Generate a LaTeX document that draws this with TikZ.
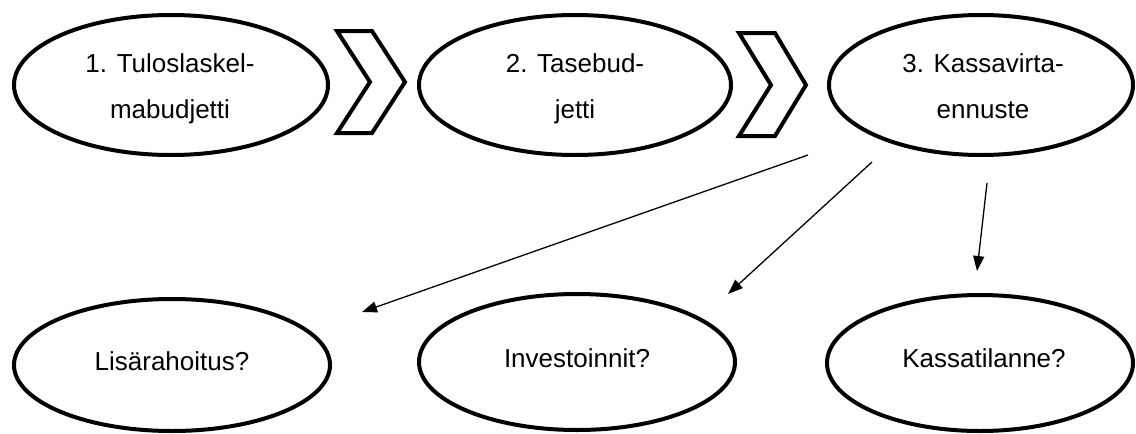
\documentclass[tikz,border=0pt]{standalone}
\usepackage{fontspec}
\setmainfont{Liberation Sans}
\usetikzlibrary{shapes.geometric,arrows.meta}
\begin{document}
\begin{tikzpicture}[x=1pt,y=-1pt,
  oval/.style={ellipse,draw=black,line width=4pt,inner sep=0pt,outer sep=0pt},
  lbl/.style={font=\fontsize{26}{30}\selectfont,inner sep=0pt,anchor=base},
  chev/.style={draw=black,line width=4pt,line join=miter},
  arr/.style={line width=1.3pt,-{Triangle[length=15pt,width=11pt]}}]
\useasboundingbox (0,0) rectangle (1136,434);
% top row
\node[oval,minimum width=314,minimum height=140] (e1) at (171,85) {};
\node[oval,minimum width=312,minimum height=140] (e2) at (575,85) {};
\node[oval,minimum width=304,minimum height=140] (e3) at (981,85) {};
\node[lbl] (t1a) at (170,72) {1. Tuloslaskel-};
\node[lbl] (t1b) at (170,118) {mabudjetti};
\node[lbl] (t2a) at (575,72) {2. Tasebud-};
\node[lbl] (t2b) at (575,118) {jetti};
\node[lbl] (t3a) at (983,72) {3. Kassavirta-};
\node[lbl] (t3b) at (983,118) {ennuste};
% chevrons
\draw[chev] (337,31) -- (372,31) -- (405,82) -- (372,133) -- (337,133) -- (370,82) -- cycle;
\draw[chev] (739,33) -- (775,33) -- (806,85) -- (775,136) -- (739,136) -- (771,85) -- cycle;
% bottom row
\node[oval,minimum width=316,minimum height=132] (e4) at (172,365) {};
\node[oval,minimum width=316,minimum height=136] (e5) at (577,362) {};
\node[oval,minimum width=306,minimum height=136] (e6) at (980,363) {};
\node[lbl] (t4) at (172,370) {Lisärahoitus?};
\node[lbl] (t5) at (577,367) {Investoinnit?};
\node[lbl] (t6) at (984,367) {Kassatilanne?};
% arrows
\coordinate (s1) at (808,155);
\coordinate (d1) at (362,312);
\coordinate (s2) at (872,162);
\coordinate (d2) at (728,294);
\coordinate (s3) at (987,183);
\coordinate (d3) at (977,271);
\draw[arr] (s1) -- (d1);
\draw[arr] (s2) -- (d2);
\draw[arr] (s3) -- (d3);
\end{tikzpicture}
\end{document}
